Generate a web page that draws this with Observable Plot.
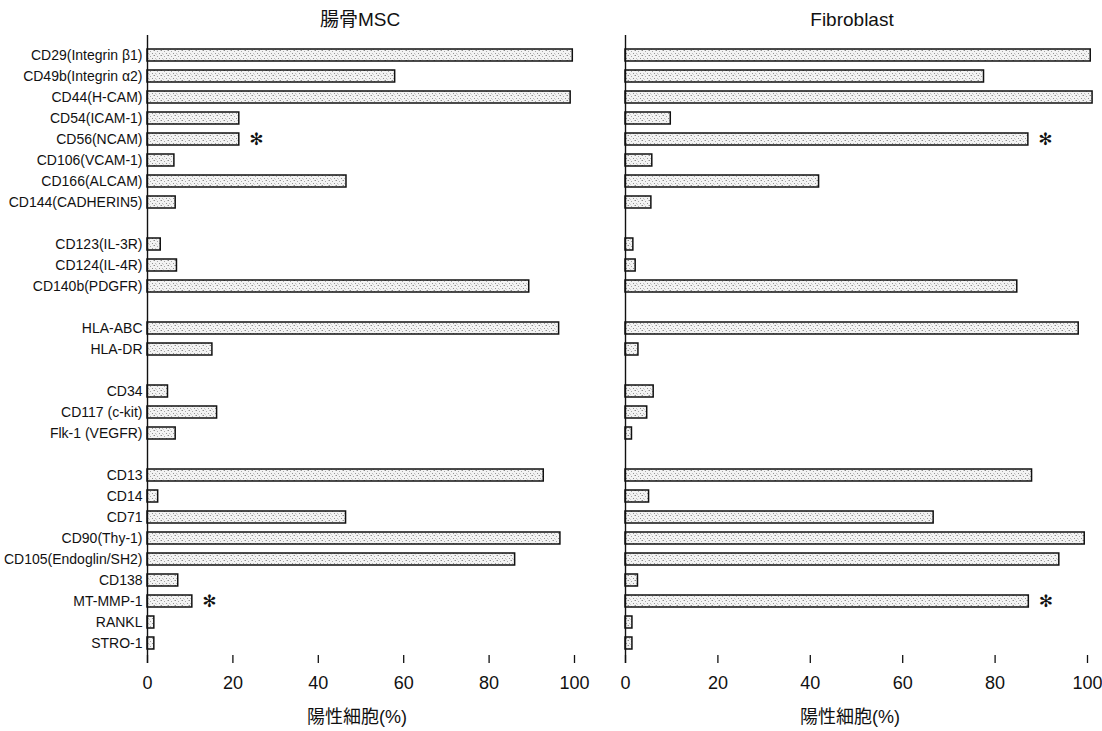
<!DOCTYPE html>
<html>
<head>
<meta charset="utf-8">
<script src="https://cdn.jsdelivr.net/npm/d3@7"></script>
<script src="https://cdn.jsdelivr.net/npm/@observablehq/plot@0.6"></script>
<style>
  html, body { margin: 0; padding: 0; background: #fff; }
  #wrap { position: relative; width: 1102px; height: 731px; overflow: hidden; }
  .panel { position: absolute; top: 0; }
  .title { position: absolute; font-family: "Liberation Sans", Arial, "Noto Sans CJK JP", sans-serif; font-size: 19px; color: #111; transform: translateX(-50%); white-space: nowrap; line-height: 1; }
</style>
</head>
<body>
<div id="wrap">
  <div class="panel" id="left"></div>
  <div class="panel" id="right" style="left:600px"></div>
  <div class="title" style="left:360px; top:10px">腸骨MSC</div>
  <div class="title" style="left:852px; top:10px">Fibroblast</div>
  <div class="title xlab" style="left:357px; top:708px; font-size:18px"></div>
  <div class="title xlab" style="left:850px; top:708px; font-size:18px"></div>
</div>
<script>
// Row order (blank strings are group spacers)
const rowOrder = [
  "CD29(Integrin β1)", "CD49b(Integrin α2)", "CD44(H-CAM)", "CD54(ICAM-1)", "CD56(NCAM)",
  "CD106(VCAM-1)", "CD166(ALCAM)", "CD144(CADHERIN5)", " ",
  "CD123(IL-3R)", "CD124(IL-4R)", "CD140b(PDGFR)", "  ",
  "HLA-ABC", "HLA-DR", "   ",
  "CD34", "CD117 (c-kit)", "Flk-1 (VEGFR)", "    ",
  "CD13", "CD14", "CD71", "CD90(Thy-1)", "CD105(Endoglin/SH2)", "CD138", "MT-MMP-1", "RANKL", "STRO-1"
];
const markers = rowOrder.filter(d => d.trim() !== "");
// Positive cells (%) — 腸骨MSC
const mscValues = [99.6, 58.0, 99.1, 21.5, 21.5, 6.3, 46.6, 6.6, 3.1, 6.9, 89.4, 96.4, 15.2, 4.8, 16.3, 6.6, 92.8, 2.5, 46.5, 96.7, 86.1, 7.2, 10.5, 1.6, 1.6];
// Positive cells (%) — Fibroblast
const fibroValues = [100.7, 77.6, 101.1, 9.8, 87.2, 5.8, 41.9, 5.6, 1.7, 2.2, 84.8, 98.1, 2.8, 6.1, 4.7, 1.4, 88.0, 5.1, 66.7, 99.4, 93.9, 2.7, 87.3, 1.5, 1.5];
// Markers flagged with an asterisk
const starred = ["CD56(NCAM)", "MT-MMP-1"];
const xTicks = [0, 20, 40, 60, 80, 100];
const xLabel = "陽性細胞(%)";

document.querySelectorAll(".xlab").forEach(el => el.textContent = xLabel);

const labelFont = '"Liberation Sans", Arial, "Noto Sans CJK JP", sans-serif';
const numFont = '"Liberation Sans", Arial, "Noto Sans CJK JP", sans-serif';

function panel(values, {width, marginLeft, marginRight, labels, pid}) {
  const data = markers.map((m, i) => ({marker: m, value: values[i]}));
  const stars = data.filter(d => starred.includes(d.marker));
  const marks = [
    Plot.barX(data, {x: "value", y: "marker", fill: `url(#${pid})`, stroke: "#111", strokeWidth: 1.5}),
    Plot.text(stars, {x: "value", y: "marker", text: () => "✻", dx: 17, fontSize: 17, fill: "#111", fontFamily: '"DejaVu Sans", sans-serif'}),
    Plot.ruleX([0], {stroke: "#111", strokeWidth: 1.4}),
    Plot.axisX({ticks: xTicks, tickSize: -8, tickPadding: 21, fontSize: 18, fontFamily: numFont,
      label: null, line: true, stroke: "#111", strokeWidth: 1.3})
  ];
  if (labels) marks.push(Plot.axisY({tickSize: 0, tickPadding: 5, fontSize: 14, fontFamily: labelFont, label: null}));
  const svg = Plot.plot({
    width, height: 731,
    marginLeft, marginRight, marginTop: 35, marginBottom: 68,
    style: {fontFamily: numFont, color: "#111", background: "transparent"},
    x: {domain: [0, 100]},
    y: {domain: rowOrder, paddingInner: 0.42, paddingOuter: 0.2, axis: labels ? undefined : null, label: null},
    marks
  });
  const ns = "http://www.w3.org/2000/svg";
  const defs = document.createElementNS(ns, "defs");
  defs.innerHTML = `<pattern id="${pid}" width="7" height="5" patternUnits="userSpaceOnUse">
      <rect width="7" height="5" fill="#f3f3f3"/>
      <rect x="0" y="0" width="1" height="1" fill="#8c8c8c"/>
      <rect x="3" y="1" width="1" height="1" fill="#a8a8a8"/>
      <rect x="5" y="3" width="1" height="1" fill="#949494"/>
      <rect x="1" y="3" width="1" height="1" fill="#bdbdbd"/>
      <rect x="6" y="0" width="1" height="1" fill="#c6c6c6"/>
      <rect x="2" y="4" width="1" height="1" fill="#cfcfcf"/>
    </pattern>`;
  svg.insertBefore(defs, svg.firstChild);
  return svg;
}

document.getElementById("left").appendChild(panel(mscValues, {width: 600, marginLeft: 147, marginRight: 26, labels: true, pid: "dotsL"}));
document.getElementById("right").appendChild(panel(fibroValues, {width: 502, marginLeft: 25, marginRight: 15, labels: false, pid: "dotsR"}));
</script>
</body>
</html>
